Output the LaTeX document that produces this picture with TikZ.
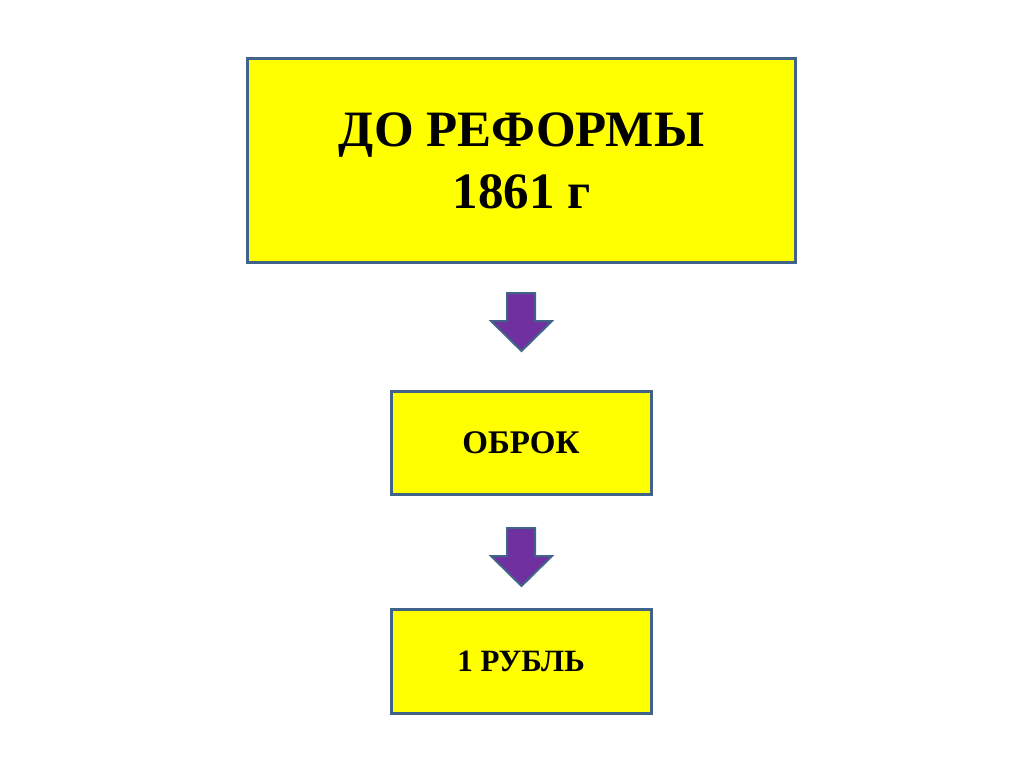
\documentclass[tikz,border=0pt]{standalone}
\usepackage{fontspec}
\setmainfont{Liberation Serif}
\definecolor{boxyellow}{RGB}{255,255,0}
\definecolor{boxline}{RGB}{65,99,138}
\definecolor{arrowfill}{RGB}{112,48,160}
\tikzset{
  ybox/.style={draw=boxline, line width=3pt, fill=boxyellow, inner sep=0pt, align=center, font=\bfseries},
  blockarrow/.style={draw=boxline, line width=2pt, fill=arrowfill, line join=miter}
}
\begin{document}
\begin{tikzpicture}[x=1pt,y=1pt]
\useasboundingbox (0,0) rectangle (1024,-767);
\fill[white] (0,0) rectangle (1024,-767);
\node[ybox, minimum width=548pt, minimum height=203pt, font=\fontsize{51}{63}\selectfont\bfseries] (top) at (521.5,-160.5) {\raisebox{-5pt}{ДО РЕФОРМЫ}\\\raisebox{-4pt}{1861 г}};
\node[ybox, minimum width=260pt, minimum height=103pt, font=\fontsize{33}{38}\selectfont\bfseries] (mid) at (521,-442.5) {\raisebox{-3pt}{ОБРОК}};
\node[ybox, minimum width=260pt, minimum height=104pt, font=\fontsize{31}{36}\selectfont\bfseries] (bot) at (521,-661) {\raisebox{-2pt}{1 РУБЛЬ}};
% block arrows
\draw[blockarrow] (507,-293) -- (535,-293) -- (535,-321) -- (552,-321) -- (521.5,-351) -- (491,-321) -- (507,-321) -- cycle;
\draw[blockarrow] (507,-528) -- (535,-528) -- (535,-556) -- (552,-556) -- (521.5,-586) -- (491,-556) -- (507,-556) -- cycle;
\end{tikzpicture}
\end{document}
